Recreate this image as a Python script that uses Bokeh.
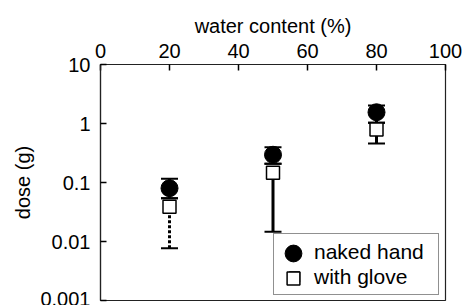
from bokeh.plotting import figure
from bokeh.models import (Range1d, FixedTicker, CustomJSTickFormatter, Legend, LegendItem)
from bokeh.embed import file_html
from bokeh.resources import INLINE

# ---- data ----
water = [20, 50, 80]
naked = [0.080, 0.295, 1.55]
naked_lo = [0.054, 0.207, 1.03]
naked_hi = [0.116, 0.397, 2.02]
glove = [0.039, 0.146, 0.79]
glove_lo = [0.0077, 0.0146, 0.46]
glove_hi = [0.054, 0.207, 1.03]
x_ticks = [0, 20, 40, 60, 80, 100]
y_ticks = [0.001, 0.01, 0.1, 1, 10]
labels = ["naked hand", "with glove"]

FONT = "Liberation Sans"
FS = "20px"

p = figure(width=462, height=305, output_backend="svg", toolbar_location=None,
           x_range=Range1d(0, 100), y_range=Range1d(0.001, 10),
           y_axis_type="log", x_axis_location="above",
           min_border_left=100, min_border_right=17, min_border_top=64, min_border_bottom=5)
p.grid.visible = False
p.outline_line_color = "#222222"
p.outline_line_width = 1.2
p.background_fill_color = "white"
p.border_fill_color = "white"

xa = p.xaxis[0]
xa.ticker = FixedTicker(ticks=x_ticks)
xa.axis_label = "water content (%)"
ya = p.yaxis[0]
ya.ticker = FixedTicker(ticks=y_ticks)
ya.formatter = CustomJSTickFormatter(code="return tick.toString();")
ya.axis_label = "dose (g)"
for ax in (xa, ya):
    ax.axis_line_color = "#222222"
    ax.axis_line_width = 1.2
    ax.major_tick_in = 6
    ax.major_tick_out = 0
    ax.major_tick_line_width = 1.5
    ax.major_tick_line_color = "black"
    ax.minor_tick_line_color = None
    ax.major_label_text_font = FONT
    ax.major_label_text_font_size = FS
    ax.major_label_text_color = "black"
    ax.axis_label_text_font = FONT
    ax.axis_label_text_font_size = FS
    ax.axis_label_text_font_style = "normal"
    ax.axis_label_text_color = "black"
xa.major_label_standoff = 7
xa.axis_label_standoff = 4
ya.major_label_standoff = 10
ya.axis_label_standoff = 3

# glove error bars (dotted for first, solid for the others)
p.segment(x0=water[:1], y0=glove_lo[:1], x1=water[:1], y1=glove[:1],
          line_color="black", line_width=3, line_dash="3 2")
p.segment(x0=water[1:], y0=glove_lo[1:], x1=water[1:], y1=glove[1:],
          line_color="black", line_width=3)
p.scatter(water, glove_lo, marker="dash", size=17, line_color="black", line_width=2)
p.scatter(water, glove_hi, marker="dash", size=17, line_color="black", line_width=2)

# naked hand error bars
p.segment(x0=water, y0=naked_lo, x1=water, y1=naked_hi, line_color="black", line_width=3)
p.scatter(water, naked_lo, marker="dash", size=17, line_color="black", line_width=2)
p.scatter(water, naked_hi, marker="dash", size=17, line_color="black", line_width=2)

r_sq = p.scatter(water, glove, marker="square", size=13, fill_color="white",
                 line_color="black", line_width=1.5)
r_circ = p.scatter(water, naked, marker="circle", size=17, fill_color="black",
                   line_color="black")

# main legend: box, labels (glyphs drawn small, then overdrawn larger below)
legend = Legend(items=[LegendItem(label=labels[0], renderers=[r_circ]),
                       LegendItem(label=labels[1], renderers=[r_sq])],
                location=(173, 5), glyph_width=30, glyph_height=25, spacing=0,
                padding=5, label_standoff=5, label_width=119, label_height=25,
                label_text_font=FONT, label_text_font_size="21px",
                label_text_color="black",
                border_line_color="#222222", border_line_width=1.2,
                background_fill_color="white", background_fill_alpha=1.0, margin=0)
p.add_layout(legend)

# overlay legends so the legend keys have the same size as the plotted markers
leg_c = Legend(items=[LegendItem(label=" ", renderers=[r_circ])],
               location=(172, 26), glyph_width=42, glyph_height=42, padding=0,
               spacing=0, label_standoff=0, label_width=1, label_height=1,
               border_line_color=None, background_fill_alpha=0.0, margin=0)
leg_s = Legend(items=[LegendItem(label=" ", renderers=[r_sq])],
               location=(177, 6), glyph_width=32, glyph_height=32, padding=0,
               spacing=0, label_standoff=0, label_width=1, label_height=1,
               border_line_color=None, background_fill_alpha=0.0, margin=0)
p.add_layout(leg_c)
p.add_layout(leg_s)

open("out.html", "w").write(file_html(p, INLINE))
